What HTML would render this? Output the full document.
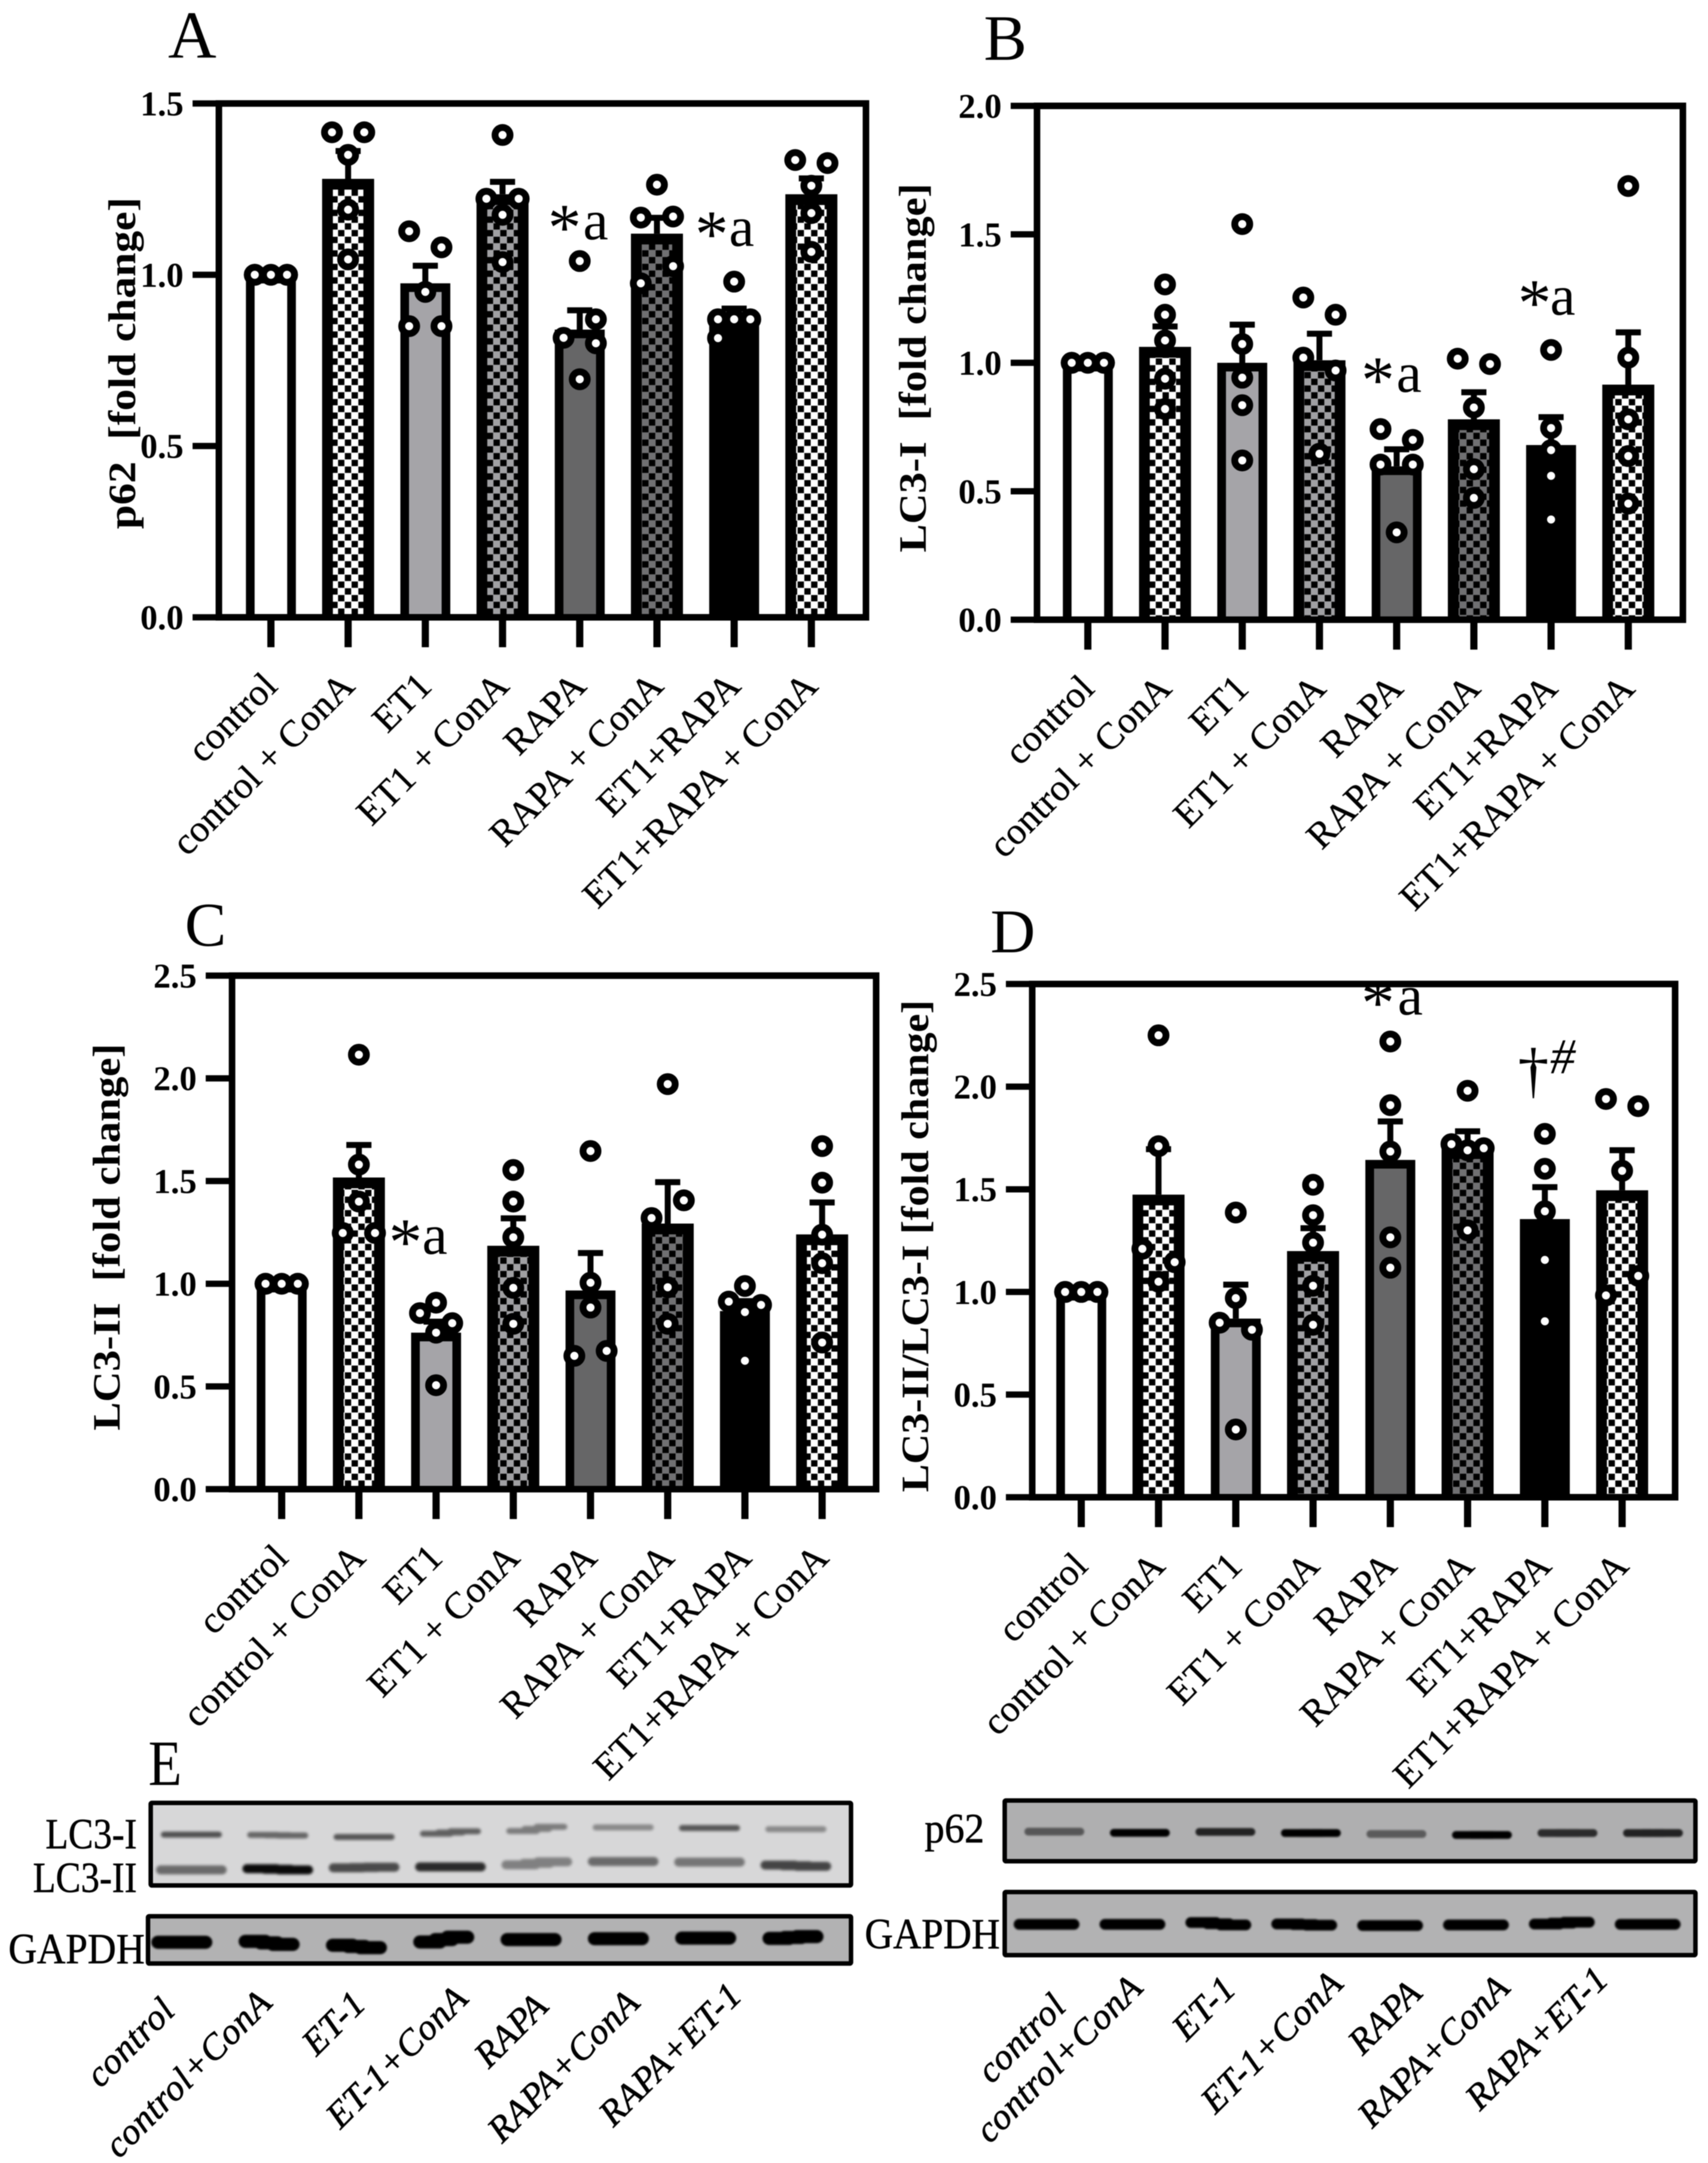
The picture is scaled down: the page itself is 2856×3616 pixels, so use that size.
<!DOCTYPE html>
<html lang="en">
<head>
<meta charset="utf-8">
<title>Autophagy markers: p62, LC3-I, LC3-II and western blots</title>
<style>
html,body{margin:0;padding:0;background:#fff;}
#figure{display:block;width:2856px;height:3616px;filter:blur(0.8px);}
text{font-family:"Liberation Serif",serif;fill:#000;}
</style>
</head>
<body>
<svg id="figure" xmlns="http://www.w3.org/2000/svg" width="2856" height="3616" viewBox="0 0 2856 3616">
<defs>
<pattern id="check-white" width="22.6" height="22.6" patternUnits="userSpaceOnUse"><rect width="22.6" height="22.6" fill="#fff"/><rect x="0.3" y="0.3" width="10.6" height="10.6" fill="#000"/><rect x="11.6" y="11.6" width="10.6" height="10.6" fill="#000"/></pattern>
<pattern id="check-gray" width="22.6" height="22.6" patternUnits="userSpaceOnUse"><rect width="22.6" height="22.6" fill="#a0a0a3"/><rect x="0.3" y="0.3" width="10.6" height="10.6" fill="#000"/><rect x="11.6" y="11.6" width="10.6" height="10.6" fill="#000"/></pattern>
<pattern id="check-dark" width="22.6" height="22.6" patternUnits="userSpaceOnUse"><rect width="22.6" height="22.6" fill="#707072"/><rect x="0.3" y="0.3" width="10.6" height="10.6" fill="#000"/><rect x="11.6" y="11.6" width="10.6" height="10.6" fill="#000"/></pattern>
<filter id="band-blur" x="-20%" y="-120%" width="140%" height="340%"><feGaussianBlur stdDeviation="2.4"/></filter>
<filter id="band-blur-sharp" x="-20%" y="-80%" width="140%" height="260%"><feGaussianBlur stdDeviation="1.5"/></filter>
</defs>
<rect width="2856" height="3616" fill="#fff"/>

<text x="281" y="96" font-size="112">A</text>
<text x="1645" y="100" font-size="108">B</text>
<text x="309" y="1581" font-size="104">C</text>
<text x="1656" y="1592" font-size="104">D</text>
<text x="248" y="2984" font-size="108" textLength="56" lengthAdjust="spacingAndGlyphs">E</text>

<g id="charts"></g>

<g>
<text x="916" y="418" font-size="112">*</text>
<text x="975" y="400" font-size="95">a</text>
<text x="1162" y="429" font-size="112">*</text>
<text x="1219" y="411" font-size="95">a</text>
<text x="2276" y="673" font-size="112">*</text>
<text x="2335" y="655" font-size="95">a</text>
<text x="2538" y="544" font-size="112">*</text>
<text x="2592" y="526" font-size="95">a</text>
<text x="650" y="2114" font-size="112">*</text>
<text x="706" y="2096" font-size="95">a</text>
<text x="2276" y="1714" font-size="112">*</text>
<text x="2337" y="1696" font-size="95">a</text>
<text x="2538" y="1824" font-size="104">†</text>
<text x="2592" y="1794" font-size="84" font-style="italic">#</text>
</g>

<g id="blots"></g>

<g stroke="#000" stroke-width="0.7">
<text x="76" y="3090" font-size="72" textLength="153" lengthAdjust="spacingAndGlyphs">LC3-I</text>
<text x="55" y="3163" font-size="72" textLength="174" lengthAdjust="spacingAndGlyphs">LC3-II</text>
<text x="14" y="3282" font-size="72" textLength="228" lengthAdjust="spacingAndGlyphs">GAPDH</text>
<text x="1546" y="3080" font-size="70" textLength="100" lengthAdjust="spacingAndGlyphs">p62</text>
<text x="1446" y="3257" font-size="72" textLength="226" lengthAdjust="spacingAndGlyphs">GAPDH</text>
</g>
<g id="lane-labels"></g>
</svg>

<script>
const SVGNS = 'http://www.w3.org/2000/svg';

/* ---------- shared categories ---------- */
const categories = ['control','control + ConA','ET1','ET1 + ConA','RAPA','RAPA + ConA','ET1+RAPA','ET1+RAPA + ConA'];
const barFills = ['#fff','url(#check-white)','#a5a4a8','url(#check-gray)','#666667','url(#check-dark)','#000','url(#check-white)'];

/* ---------- panel A: p62 ---------- */
const yTicksA = ['0.0','0.5','1.0','1.5'];
const meansA = [1.0,1.28,0.975,1.235,0.84,1.12,0.885,1.235];
const errTopsA = [1.0,1.37,1.035,1.28,0.905,1.175,0.91,1.29];
const dotsA = [[1,1,1,1,1],[1.416,1.416,1.35,1.19,1.045],[1.127,1.08,0.95,0.85,0.85],[1.408,1.222,1.222,1.175,1.037],[1.04,0.87,0.816,0.80,0.695],[1.263,1.167,1.17,1.025,0.975],[0.98,0.87,0.87,0.87,0.815],[1.335,1.326,1.26,1.18,1.067]];
const sidesA = [[-1,-1,0,1,1],[-1,1,0,0,0],[-1,1,0,-1,1],[0,-1,1,0,0],[0,1,-1,1,0],[0,-1,1,1,-1],[0,-1,0,1,-1],[-1,1,0,0,0]];

/* ---------- panel B: LC3-I ---------- */
const yTicksB = ['0.0','0.5','1.0','1.5','2.0'];
const meansB = [1.0,1.062,1.0,1.01,0.597,0.78,0.68,0.915];
const errTopsB = [1.0,1.153,1.16,1.125,0.675,0.897,0.80,1.13];
const dotsB = [[1,1,1,1,1],[1.305,1.187,1.087,0.938,0.82],[1.54,1.073,0.942,0.835,0.62],[1.254,1.187,1.02,0.97,0.646],[0.742,0.70,0.604,0.604,0.34],[1.016,0.995,0.826,0.586,0.474],[1.05,0.746,0.66,0.56,0.39],[1.688,1.02,0.78,0.637,0.452]];
const sidesB = [[-1,-1,0,1,1],[0,0,0,0,0],[0,0,0,0,0],[-1,1,-1,1,0],[-1,1,-1,1,0],[-1,1,0,0,0],[0,0,0,0,0],[0,0,0,0,0]];

/* ---------- panel C: LC3-II ---------- */
const yTicksC = ['0.0','0.5','1.0','1.5','2.0','2.5'];
const meansC = [1.0,1.517,0.762,1.185,0.967,1.293,0.867,1.24];
const errTopsC = [1.0,1.69,0.83,1.333,1.164,1.509,0.93,1.41];
const dotsC = [[1,1,1,1,1],[2.115,1.58,1.40,1.247,1.247],[0.908,0.857,0.808,0.762,0.506],[1.554,1.40,1.226,0.98,0.805],[1.646,1.005,0.884,0.649,0.673],[1.972,1.406,1.32,0.983,0.805],[0.989,0.913,0.897,0.862,0.625],[1.67,1.492,1.239,1.10,0.714]];
const sidesC = [[-1,-1,0,1,1],[0,0,0,-1,1],[0,-1,1,0,0],[0,0,0,0,0],[0,0,0,-1,1],[0,1,-1,0,0],[0,-1,1,0,0],[0,0,0,0,0]];

/* ---------- panel D: LC3-II / LC3-I ---------- */
const yTicksD = ['0.0','0.5','1.0','1.5','2.0','2.5'];
const meansD = [1.0,1.474,0.87,1.199,1.643,1.70,1.355,1.495];
const errTopsD = [1.0,1.71,1.05,1.325,1.845,1.797,1.525,1.705];
const dotsD = [[1,1,1,1,1],[2.25,1.71,1.21,1.145,1.05],[1.387,0.97,0.85,0.816,0.33],[1.522,1.374,1.24,1.03,0.84],[2.22,1.91,1.684,1.266,1.118],[1.98,1.72,1.69,1.70,1.30],[1.77,1.60,1.393,1.156,0.857],[1.94,1.905,1.59,1.078,0.983]];
const sidesD = [[-1,-1,0,1,1],[0,0,-1,1,0],[0,0,-1,1,0],[0,0,0,0,0],[0,0,0,0,0],[0,-1,0,1,0],[0,0,0,0,0],[-1,1,0,1,-1]];

/* ---------- blot band strengths, rows and tilt ---------- */
const laneNames = ['control','control+ConA','ET-1','ET-1+ConA','RAPA','RAPA+ConA','RAPA+ET-1'];
const lc3iStrength = [0.62,0.52,0.6,0.55,0.42,0.36,0.6,0.36];
const lc3iRows = [3067,3068,3071,3063.5,3057.5,3055,3056,3058];
const lc3iTilt = [0,1,0,-4,-7,0,0,0];
const lc3iiStrength = [0.5,0.95,0.65,0.8,0.4,0.5,0.45,0.68];
const lc3iiRows = [3126,3125,3122,3121,3115,3112,3113,3119];
const lc3iiTilt = [0,2,-1,0,-5,0,0,2];
const gapdhLeftStrength = [1,1,1,1,1,1,1,1];
const gapdhLeftRows = [3247,3248,3254,3242.5,3242.5,3241,3240,3239];
const gapdhLeftTilt = [0,5,4,-8,0,0,0,-3];
const p62Strength = [0.5,1,0.8,1,0.48,1,0.75,0.8];
const p62Rows = [3062,3064,3062.5,3064.4,3066,3067.6,3064.4,3064.4];
const p62Tilt = [0,0,0,0,0,0,0,0];
const gapdhRightStrength = [1,1,1,1,1,1,1,1];
const gapdhRightRows = [3217,3217,3216,3217.4,3219,3218,3215,3217];
const gapdhRightTilt = [0,0,4,2,0,0,-3,0];

function svgEl(tag, parent) {
  const el = document.createElementNS(SVGNS, tag);
  parent.appendChild(el);
  return el;
}
function setAll(el, map) {
  for (const k in map) el.setAttribute(k, map[k]);
}

function drawPanel(id, box, yMax, ticks, means, errTops, dots, sides, title, titleX, titleY, titleLen) {
  const root = document.getElementById('charts');
  const g = svgEl('g', root);
  
  

  const yScale = function (v) { return box.bottom - (v / yMax) * (box.bottom - box.top); };
  const xScale = function (i) { return box.firstX + i * box.step; };

  const bars = svgEl('g', g);
  
  
  means.forEach(function (m, i) {
    const r = svgEl('path', bars);
    
    
    const sw = barFills[i].indexOf('url') === 0 ? 18 : 14.5;
    const xL = xScale(i) - 34.5, xR = xScale(i) + 34.5, yT = yScale(m) + sw / 2;
    setAll(r, {d: 'M' + xL + ' ' + box.bottom + 'V' + yT + 'H' + xR + 'V' + box.bottom,
      fill: barFills[i], stroke: '#000', 'stroke-width': sw});
  });

  const errs = svgEl('g', g);
  
  
  errTops.forEach(function (t, i) {
    if (t <= means[i]) return;
    const p = svgEl('path', errs);
    
    
    const cx = xScale(i), yTop = yScale(t) + 5;
    setAll(p, {d: 'M' + cx + ' ' + yScale(means[i]) + 'V' + yTop + 'M' + (cx - 21) + ' ' + yTop + 'H' + (cx + 21),
      fill: 'none', stroke: '#000', 'stroke-width': 10});
  });

  const pts = svgEl('g', g);
  
  
  dots.forEach(function (group, i) {
    group.forEach(function (v, j) {
      const c = svgEl('circle', pts);
      
      
      setAll(c, {cx: xScale(i) + sides[i][j] * box.sideStep, cy: yScale(v), r: 12.5, fill: '#fff', stroke: '#000', 'stroke-width': 11.5});
    });
  });

  const frame = svgEl('rect', g);
  
  
  setAll(frame, {x: box.left, y: box.top, width: box.right - box.left, height: box.bottom - box.top, fill: 'none', stroke: '#000', 'stroke-width': 11});

  ticks.forEach(function (label, i) {
    const v = parseFloat(label);
    const tick = svgEl('line', g);
    
    
    setAll(tick, {x1: box.left - 44, x2: box.left, y1: yScale(v), y2: yScale(v), stroke: '#000', 'stroke-width': 10.5});
    const t = svgEl('text', g);
    
    
    setAll(t, {x: box.left - 59, y: yScale(v) + 20, 'text-anchor': 'end', 'font-size': 58, 'font-weight': 'bold'});
    t.textContent = label;
  });

  categories.forEach(function (name, i) {
    const tick = svgEl('line', g);
    
    
    setAll(tick, {x1: xScale(i), x2: xScale(i), y1: box.bottom, y2: box.bottom + 50, stroke: '#000', 'stroke-width': 12});
    const t = svgEl('text', g);
    
    
    const ax = xScale(i) + 14, ay = box.bottom + 118;
    setAll(t, {x: ax, y: ay, 'text-anchor': 'end', 'font-size': 63, 'letter-spacing': 0.3, stroke: '#000', 'stroke-width': 0.5,
      transform: 'rotate(-45 ' + ax + ' ' + ay + ')'});
    t.textContent = name;
  });

  const yt = svgEl('text', g);
  
  
  setAll(yt, {x: titleX, y: titleY, 'text-anchor': 'middle', 'font-size': 65, 'font-weight': 'bold',
    textLength: titleLen, lengthAdjust: 'spacingAndGlyphs', transform: 'rotate(-90 ' + titleX + ' ' + titleY + ')'});
  yt.textContent = title;
}

drawPanel('a', {left:366,right:1448,top:173,bottom:1032,firstX:453,step:129.1,sideStep:27}, 1.5, yTicksA, meansA, errTopsA, dotsA, sidesA, 'p62\u00a0 [fold change]', 226, 607, 555);
drawPanel('b', {left:1734,right:2814,top:177,bottom:1036,firstX:1819,step:129.1,sideStep:27}, 2.0, yTicksB, meansB, errTopsB, dotsB, sidesB, 'LC3-I\u00a0 [fold change]', 1548, 615, 617);
drawPanel('c', {left:388,right:1465,top:1631,bottom:2489.5,firstX:471,step:129.1,sideStep:27}, 2.5, yTicksC, meansC, errTopsC, dotsC, sidesC, 'LC3-II\u00a0 [fold change]', 200, 2068, 647);
drawPanel('d', {left:1726,right:2801,top:1645,bottom:2503,firstX:1808,step:129.2,sideStep:27}, 2.5, yTicksD, meansD, errTopsD, dotsD, sidesD, 'LC3-II/LC3-I [fold change]', 1552, 2083, 823);

function drawBlot(name, box, bg, firstX, step) {
  const root = document.getElementById('blots');
  const g = svgEl('g', root);
  
  
  const r = svgEl('rect', g);
  
  
  setAll(r, {x: box.x, y: box.y, width: box.w, height: box.h, rx: 2, fill: bg, stroke: '#000', 'stroke-width': 7.5});
  return function (rows, strengths, tilts, bandW, bandH, blurId) {
    rows.forEach(function (y, i) {
      const cx = firstX + i * step;
      const band = svgEl('g', g);
      
      
      setAll(band, {opacity: strengths[i], filter: 'url(#' + blurId + ')'});
      const left = svgEl('rect', band);
      setAll(left, {x: cx - bandW / 2, y: y - tilts[i] / 2 - bandH / 2, width: bandW * 0.55, height: bandH, rx: bandH / 2, fill: '#000'});
      const mid = svgEl('rect', band);
      setAll(mid, {x: cx - bandW * 0.25, y: y - bandH / 2, width: bandW * 0.5, height: bandH, rx: bandH / 2, fill: '#000'});
      const right = svgEl('rect', band);
      setAll(right, {x: cx - bandW * 0.05, y: y + tilts[i] / 2 - bandH / 2, width: bandW * 0.55, height: bandH, rx: bandH / 2, fill: '#000'});
    });
  };
}

const lc3Bands = drawBlot('blot-lc3', {x:252,y:3014,w:1171,h:138}, '#d7d7d8', 320, 144.4);
lc3Bands(lc3iRows, lc3iStrength, lc3iTilt, 102, 10, 'band-blur');
lc3Bands(lc3iiRows, lc3iiStrength, lc3iiTilt, 118, 15, 'band-blur');
const gapdhLeftBands = drawBlot('blot-gapdh-left', {x:247.5,y:3203.5,w:1175.5,h:79}, '#b2b2b3', 304, 146);
gapdhLeftBands(gapdhLeftRows, gapdhLeftStrength, gapdhLeftTilt, 102, 22, 'band-blur-sharp');
const p62Bands = drawBlot('blot-p62', {x:1680,y:3010,w:1155,h:101.5}, '#afafb0', 1763, 143);
p62Bands(p62Rows, p62Strength, p62Tilt, 100, 13, 'band-blur-sharp');
const gapdhRightBands = drawBlot('blot-gapdh-right', {x:1680,y:3163,w:1155,h:105.5}, '#b2b2b3', 1750, 143.6);
gapdhRightBands(gapdhRightRows, gapdhRightStrength, gapdhRightTilt, 110, 18, 'band-blur-sharp');

function drawLaneLabels(ends) {
  const root = document.getElementById('lane-labels');
  laneNames.forEach(function (name, i) {
    const t = svgEl('text', root);
    
    
    const ax = ends[i][0], ay = ends[i][1];
    setAll(t, {x: ax, y: ay, 'text-anchor': 'end', 'font-size': 61, 'font-style': 'italic', 'letter-spacing': 1, stroke: '#000', 'stroke-width': 0.9,
      transform: 'rotate(-45 ' + ax + ' ' + ay + ')'});
    t.textContent = name;
  });
}
drawLaneLabels([[296,3364],[458,3351],[615,3353],[786,3344],[920,3357],[1073,3351],[1244,3339]]);
drawLaneLabels([[1786,3357],[1914,3326],[2070,3328],[2249,3319],[2381,3335],[2528,3326],[2693,3312]]);
</script>
</body>
</html>
